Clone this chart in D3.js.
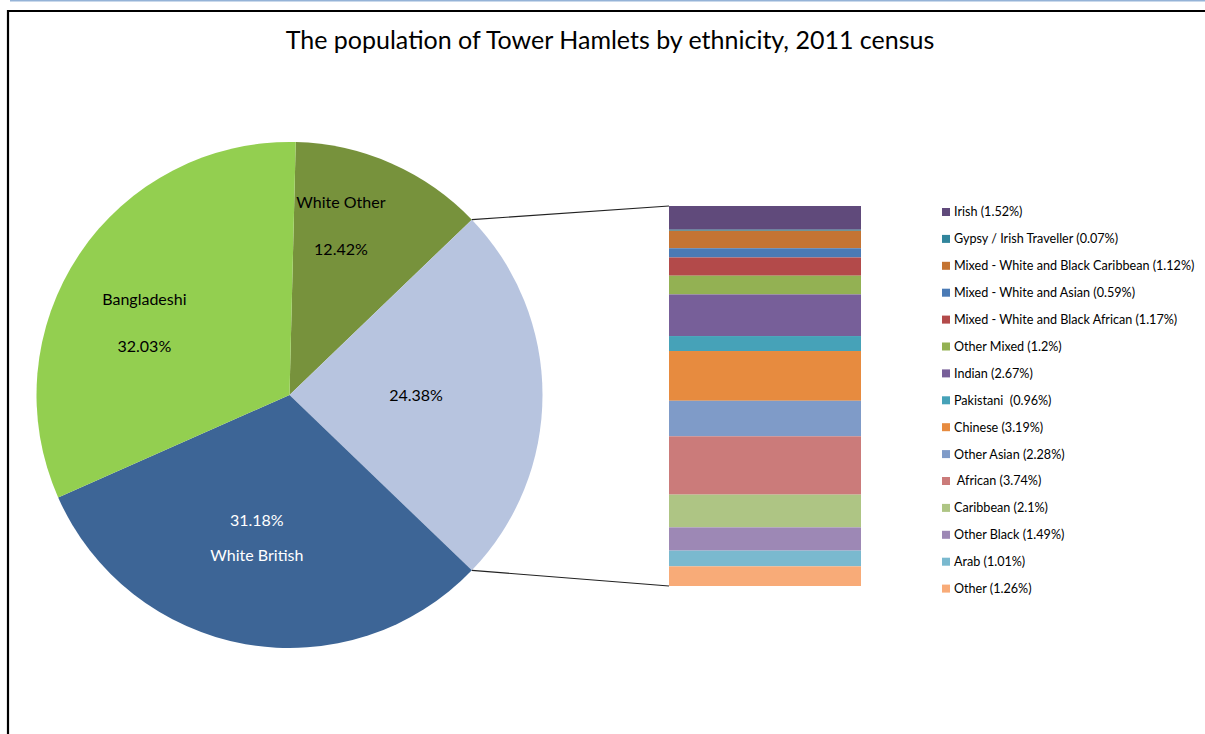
<!DOCTYPE html>
<html>
<head>
<meta charset="utf-8">
<script src="https://cdn.jsdelivr.net/npm/d3@7"></script>
<style>
  html, body { margin: 0; padding: 0; background: #fff; }
  svg { display: block; }
  text { font-family: Lato, "Open Sans", sans-serif; white-space: pre; }
</style>
</head>
<body>
<svg id="chart" width="1205" height="734"></svg>
<script>
// Main pie: share of population (%)
const pieNames = ["White Other", "Other", "White British", "Bangladeshi"];
const pieValues = [12.42, 24.38, 31.18, 32.03];
const pieColors = ["#77923c", "#b7c4df", "#3d6596", "#93cf50"];

// Breakdown of the "Other" slice (%)
const subNames = ["Irish", "Gypsy / Irish Traveller", "Mixed - White and Black Caribbean",
  "Mixed - White and Asian", "Mixed - White and Black African", "Other Mixed", "Indian",
  "Pakistani ", "Chinese", "Other Asian", " African", "Caribbean", "Other Black", "Arab", "Other"];
const subValues = [1.52, 0.07, 1.12, 0.59, 1.17, 1.2, 2.67, 0.96, 3.19, 2.28, 3.74, 2.1, 1.49, 1.01, 1.26];
const subColors = ["#604a7b", "#31859c", "#c47433", "#4a7ab5", "#b34a4a", "#93b153", "#775f99",
  "#46a2b8", "#e78b3f", "#7f9bc8", "#cb7b7a", "#aec584", "#9d88b5", "#7ab9cf", "#f8ab78"];

const svg = d3.select("#chart");

// page chrome: light blue rule and chart frame
svg.append("line").attr("x1", 10).attr("x2", 1205).attr("y1", 0.5).attr("y2", 0.5)
  .attr("stroke", "#95b3d7").attr("stroke-width", 2);
svg.append("path").attr("d", "M8,734 V11 H1205")
  .attr("fill", "none").attr("stroke", "#000").attr("stroke-width", 2.2);

svg.append("text").attr("x", 610).attr("y", 49).attr("text-anchor", "middle")
  .attr("font-size", 25).attr("fill", "#000")
  .text("The population of Tower Hamlets by ethnicity, 2011 census");

// ---- pie ----
const cx = 289.5, cy = 395, R = 253;
const total = d3.sum(pieValues);
const otherIdx = 1;
// rotate so that the "Other" slice is centred on 3 o'clock
const before = d3.sum(pieValues.slice(0, otherIdx)) + pieValues[otherIdx] / 2;
const start = Math.PI / 2 - before / total * 2 * Math.PI;
const pie = d3.pie().sort(null).startAngle(start).endAngle(start + 2 * Math.PI);
const arcs = pie(pieValues);
const arc = d3.arc().innerRadius(0).outerRadius(R);

const g = svg.append("g").attr("transform", `translate(${cx},${cy})`);
g.selectAll("path.slice").data(arcs).join("path")
  .attr("class", "slice")
  .attr("d", arc)
  .attr("fill", (d, i) => pieColors[i]);

// slice labels
const labelSpec = [
  { f: 0.70, da: -0.12, lines: [pieNames[0], pct(pieValues[0])], gap: 47, fill: "#000" },
  { f: 0.50, da: 0, lines: [pct(pieValues[1])], gap: 0, fill: "#000" },
  { f: 0.58, da: 0.05, lines: [pct(pieValues[2]), pieNames[2]], gap: 35, fill: "#fff" },
  { f: 0.64, da: -0.13, lines: [pieNames[3], pct(pieValues[3])], gap: 47, fill: "#000" }
];
function pct(v) { return v.toFixed(2) + "%"; }
arcs.forEach((a, i) => {
  const s = labelSpec[i];
  const ang = (a.startAngle + a.endAngle) / 2 + s.da;
  const r = R * s.f;
  const x = r * Math.sin(ang), y = -r * Math.cos(ang);
  const n = s.lines.length;
  s.lines.forEach((t, k) => {
    g.append("text")
      .attr("x", x).attr("y", y + (k - (n - 1) / 2) * s.gap)
      .attr("dy", "0.35em").attr("text-anchor", "middle")
      .attr("font-size", 16).attr("fill", s.fill).text(t);
  });
});

// ---- stacked breakdown bar ----
const bx0 = 669, bx1 = 861, by0 = 206, by1 = 586;
const y = d3.scaleLinear().domain([0, d3.sum(subValues)]).range([by0, by1]);
const cum = d3.cumsum(subValues);
svg.selectAll("rect.sub").data(subValues).join("rect")
  .attr("class", "sub")
  .attr("x", bx0).attr("width", bx1 - bx0)
  .attr("y", (d, i) => y(cum[i] - d))
  .attr("height", d => y(d) - y(0))
  .attr("fill", (d, i) => subColors[i]);

// connector lines from the "Other" slice edges to the bar
const oa = arcs[otherIdx];
const p1 = [cx + R * Math.sin(oa.startAngle), cy - R * Math.cos(oa.startAngle)];
const p2 = [cx + R * Math.sin(oa.endAngle), cy - R * Math.cos(oa.endAngle)];
svg.append("line").attr("x1", p1[0]).attr("y1", p1[1]).attr("x2", bx0).attr("y2", y(0))
  .attr("stroke", "#222").attr("stroke-width", 1.2);
svg.append("line").attr("x1", p2[0]).attr("y1", p2[1]).attr("x2", bx0).attr("y2", y(d3.sum(subValues)))
  .attr("stroke", "#222").attr("stroke-width", 1.2);

// ---- legend ----
const lx = 942, ly0 = 212, lstep = 26.9;
const leg = svg.append("g");
subNames.forEach((name, i) => {
  const yy = ly0 + i * lstep;
  leg.append("rect").attr("x", lx).attr("y", yy - 4).attr("width", 8).attr("height", 8)
    .attr("fill", subColors[i]);
  leg.append("text").attr("x", lx + 12).attr("y", yy).attr("dy", "0.35em")
    .attr("font-size", 12.6).attr("fill", "#000")
    .text(`${name} (${subValues[i]}%)`);
});
</script>
</body>
</html>
